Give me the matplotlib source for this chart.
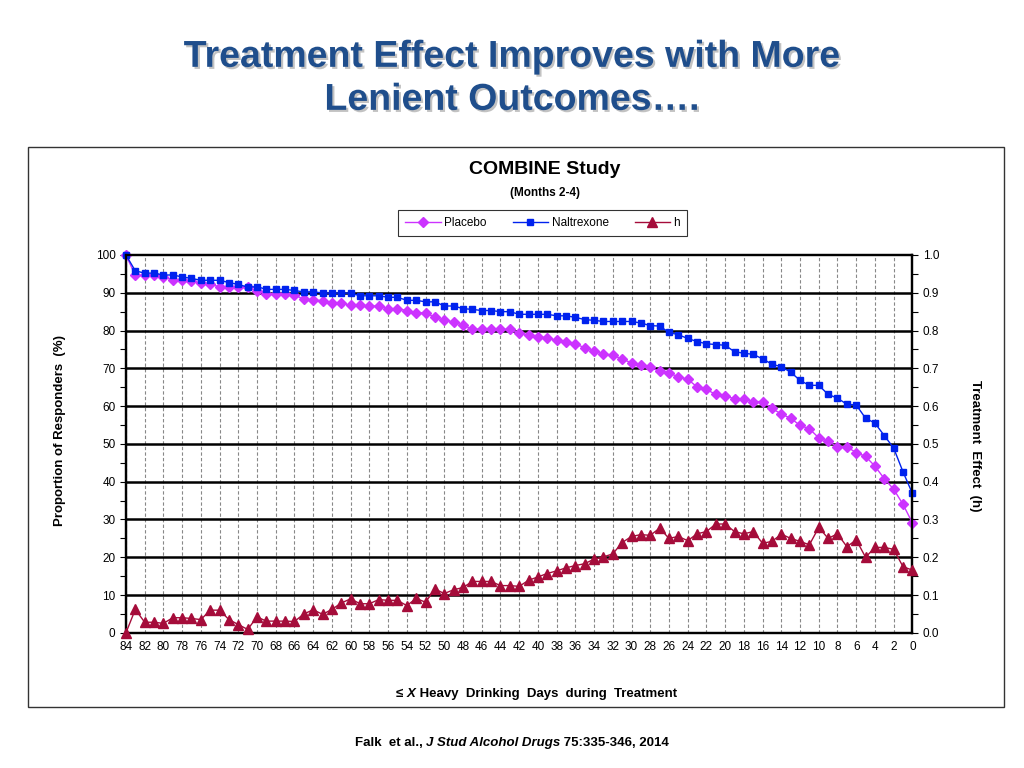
import matplotlib
matplotlib.use("Agg")
import matplotlib.pyplot as plt
import matplotlib.patheffects as pe
from matplotlib.patches import Rectangle
from matplotlib.offsetbox import TextArea, HPacker, AnnotationBbox
import numpy as np

plt.rcParams['font.family'] = ['Liberation Sans', 'DejaVu Sans']

# dias de consumo pesado (eixo x, de 84 a 0)
dias = list(range(84, -1, -1))

placebo = [100.0, 94.6, 94.6, 94.6, 94.1, 93.5, 93.4, 93.1, 92.6, 92.2,
           91.6, 91.6, 91.6, 91.4, 90.5, 89.8, 89.8, 89.8, 89.4, 88.3,
           88.1, 87.9, 87.4, 87.2, 86.7, 86.7, 86.5, 86.5, 85.8, 85.8,
           85.3, 84.7, 84.7, 83.5, 82.7, 82.3, 81.4, 80.4, 80.3, 80.3,
           80.3, 80.3, 79.4, 78.8, 78.3, 78.1, 77.4, 77.0, 76.4, 75.5,
           74.5, 73.8, 73.5, 72.4, 71.5, 70.9, 70.3, 69.2, 68.7, 67.8,
           67.1, 65.1, 64.4, 63.1, 62.8, 61.9, 61.9, 61.2, 61.2, 59.4,
           57.9, 56.8, 54.9, 54.0, 51.6, 50.7, 49.2, 49.2, 47.7, 46.7,
           44.1, 40.8, 38.0, 34.0, 29.1]

naltrexone = [100.0, 95.8, 95.2, 95.2, 94.7, 94.7, 94.2, 93.8, 93.3, 93.3,
              93.3, 92.7, 92.2, 91.5, 91.6, 90.9, 90.9, 90.9, 90.6, 90.2,
              90.3, 89.9, 89.9, 89.9, 89.9, 89.2, 89.2, 89.2, 88.8, 88.8,
              88.0, 88.0, 87.6, 87.6, 86.5, 86.5, 85.8, 85.6, 85.3, 85.3,
              85.0, 85.0, 84.3, 84.3, 84.3, 84.3, 83.9, 83.9, 83.5, 82.9,
              82.7, 82.4, 82.4, 82.4, 82.4, 82.0, 81.3, 81.2, 79.5, 78.9,
              77.9, 77.1, 76.5, 76.3, 76.1, 74.4, 74.0, 73.7, 72.5, 71.1,
              70.4, 69.0, 66.8, 65.5, 65.5, 63.1, 62.1, 60.5, 60.3, 56.8,
              55.5, 52.2, 48.9, 42.6, 36.9]

# efeito do tratamento (h), eixo da direita
h = [0.000, 0.062, 0.028, 0.028, 0.025, 0.040, 0.040, 0.038, 0.035, 0.060,
     0.060, 0.035, 0.022, 0.009, 0.042, 0.031, 0.031, 0.031, 0.030, 0.050,
     0.061, 0.049, 0.062, 0.079, 0.090, 0.077, 0.077, 0.088, 0.086, 0.086,
     0.072, 0.091, 0.081, 0.116, 0.104, 0.114, 0.120, 0.136, 0.136, 0.136,
     0.125, 0.125, 0.123, 0.139, 0.148, 0.157, 0.164, 0.172, 0.178, 0.183,
     0.195, 0.201, 0.209, 0.239, 0.255, 0.260, 0.258, 0.277, 0.250, 0.255,
     0.244, 0.262, 0.268, 0.288, 0.288, 0.268, 0.262, 0.268, 0.237, 0.242,
     0.261, 0.250, 0.242, 0.233, 0.279, 0.250, 0.262, 0.228, 0.246, 0.200,
     0.226, 0.226, 0.221, 0.175, 0.166]

cor_placebo = '#CC33FF'
cor_nal = '#0022EE'
cor_h = '#A50C3A'

fig = plt.figure(figsize=(10.24, 7.68), dpi=100)

# moldura do gráfico
fig.add_artist(Rectangle((0.0273, 0.0794), 0.953, 0.729, transform=fig.transFigure,
                         fill=False, edgecolor='#333333', linewidth=1.0))

ax = fig.add_axes([0.123, 0.176, 0.768, 0.492])
ax2 = ax.twinx()
ax2.set_zorder(ax.get_zorder() + 1)
ax2.patch.set_visible(False)

# grade
for x in range(0, 85, 2):
    ax.axvline(x, color='#888888', linestyle=(0, (3, 2)), linewidth=0.8, zorder=1)
for y in range(10, 100, 10):
    ax.axhline(y, color='black', linewidth=1.8, zorder=1)

l1, = ax.plot(dias, placebo, color=cor_placebo, marker='D', markersize=5,
              linewidth=1.0, zorder=3, label='Placebo', clip_on=False)
l2, = ax.plot(dias, naltrexone, color=cor_nal, marker='s', markersize=4.8,
              linewidth=1.0, zorder=4, label='Naltrexone', clip_on=False)
l3, = ax2.plot(dias, h, color=cor_h, marker='^', markersize=6.5,
               linewidth=1.0, zorder=3, label='h', clip_on=False)

ax.set_xlim(84, 0)
ax.set_ylim(0, 100)
ax2.set_ylim(0, 1)
ax.set_xticks(range(84, -1, -2))
ax.set_yticks(range(0, 101, 10))
ax.set_yticks(range(5, 100, 10), minor=True)
ax2.set_yticks(np.arange(0, 1.01, 0.1))
ax2.set_yticks(np.arange(0.05, 1.0, 0.1), minor=True)
ax2.set_yticklabels([f'{v:.1f}' for v in np.arange(0, 1.01, 0.1)])

ax.tick_params(axis='x', length=0, labelsize=8.5, pad=6)
ax.tick_params(axis='y', which='both', direction='out', length=4, labelsize=8.5, width=0.8)
ax2.tick_params(axis='y', which='both', direction='out', length=4, labelsize=8.5, width=0.8)

for a in (ax, ax2):
    for s in a.spines.values():
        s.set_linewidth(1.6)
        s.set_color('black')

# títulos
tit_pe = [pe.withSimplePatchShadow(offset=(1.5, -1.5), shadow_rgbFace='#9a9a9a', alpha=0.6)]
fig.text(0.5, 0.926, 'Treatment Effect Improves with More', ha='center', va='center',
         fontsize=27, fontweight='bold', color='#1F4E8C', path_effects=tit_pe)
fig.text(0.5, 0.870, 'Lenient Outcomes….', ha='center', va='center',
         fontsize=27, fontweight='bold', color='#1F4E8C', path_effects=tit_pe)

fig.text(0.532, 0.779, 'COMBINE Study', ha='center', va='center',
         fontsize=14, fontweight='bold')
fig.text(0.532, 0.749, '(Months 2-4)', ha='center', va='center',
         fontsize=8.5, fontweight='bold')

leg = fig.legend(handles=[l1, l2, l3], loc='center', bbox_to_anchor=(0.530, 0.710),
                 ncol=3, fontsize=8.5, frameon=True, fancybox=False,
                 edgecolor='black', handlelength=3, columnspacing=2.2,
                 borderpad=0.6, handletextpad=0.3)
leg.get_frame().set_linewidth(0.8)

fig.text(0.0586, 0.44, 'Proportion of Responders  (%)', rotation=90, ha='center',
         va='center', fontsize=9.5, fontweight='bold')
fig.text(0.952, 0.42, 'Treatment  Effect  (h)', rotation=-90, ha='center',
         va='center', fontsize=9.5, fontweight='bold')

# rótulo do eixo x com partes em itálico
negrito = dict(fontsize=9.5, fontweight='bold', color='black')
italico = dict(fontsize=9.5, fontweight='bold', fontstyle='italic', color='black')
caixa = HPacker(children=[TextArea('≤ ', textprops=negrito),
                          TextArea('X', textprops=italico),
                          TextArea(' Heavy  Drinking  Days  during  Treatment', textprops=negrito)],
                align='baseline', pad=0, sep=0)
ax.add_artist(AnnotationBbox(caixa, (0.524, 0.0964), xycoords='figure fraction',
                             frameon=False, box_alignment=(0.5, 0.5)))

rodape = HPacker(children=[TextArea('Falk  et al., ', textprops=negrito),
                           TextArea('J Stud Alcohol Drugs', textprops=italico),
                           TextArea(' 75:335-346, 2014', textprops=negrito)],
                 align='baseline', pad=0, sep=0)
ax.add_artist(AnnotationBbox(rodape, (0.5, 0.0326), xycoords='figure fraction',
                             frameon=False, box_alignment=(0.5, 0.5)))

fig.savefig('out.png', dpi=100)
